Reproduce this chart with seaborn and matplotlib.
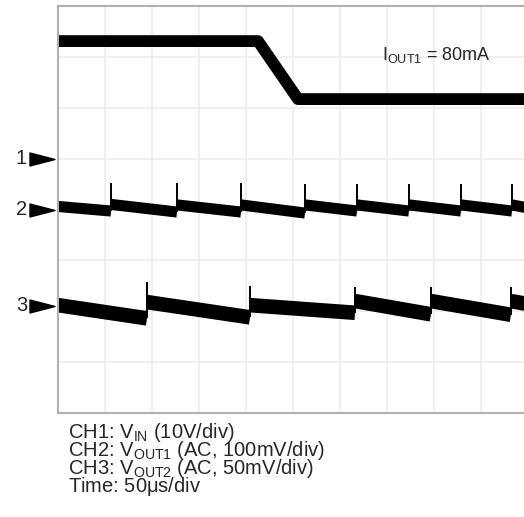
import numpy as np
import pandas as pd
import matplotlib
matplotlib.use("Agg")
import matplotlib.pyplot as plt
from matplotlib.path import Path
import seaborn as sns

# time axis: 50us/div, 10 div; vertical: 8 div (screen divisions)
t_max = 500
n_ydiv = 8

# CH1: V_IN step down
ch1_t = [0, 212.8, 255.3, 500]
ch1_v = [7.31, 7.31, 6.17, 6.17]

# CH2: V_OUT1 ripple (sawtooth), jump times in us
ch2_jump_t = [56.4, 126.6, 194.7, 262.8, 318.1, 373.4, 428.7, 483.0]
ch2_seg_start = [4.06, 4.10, 4.09, 4.09, 4.09, 4.09, 4.09, 4.09, 4.09]
ch2_seg_end = [3.97, 3.95, 3.95, 3.93, 3.97, 3.97, 3.97, 3.97, 4.03]
ch2_spike = [4.52, 4.52, 4.52, 4.50, 4.50, 4.50, 4.50, 4.50]

# CH3: V_OUT2 ripple
ch3_jump_t = [94.7, 204.3, 316.0, 396.8, 481.9]
ch3_seg_start = [2.12, 2.18, 2.12, 2.20, 2.20, 2.20]
ch3_seg_end = [1.86, 1.88, 1.97, 1.94, 1.93, 2.14]
ch3_spike = [2.58, 2.50, 2.48, 2.47, 2.47]

# channel ground markers
marker_labels = ["1", "2", "3"]
marker_levels = [5.0, 4.0, 2.11]

legend_lines = [
    r"CH1: $\mathregular{V_{IN}}$ (10V/div)",
    r"CH2: $\mathregular{V_{OUT1}}$ (AC, 100mV/div)",
    r"CH3: $\mathregular{V_{OUT2}}$ (AC, 50mV/div)",
    r"Time: 50$\mathregular{\mu}$s/div",
]
load_note = r"$\mathregular{I_{OUT1}}$ = 80mA"

sns.set_style("white")
plt.rcParams["font.family"] = ["Liberation Sans", "DejaVu Sans"]
plt.rcParams["mathtext.fontset"] = "custom"
plt.rcParams["mathtext.rm"] = "Liberation Sans"


def segments(jump_t, starts, ends, name):
    edges = [0] + list(jump_t) + [t_max]
    rows = []
    for i in range(len(starts)):
        rows.append((edges[i], starts[i], f"{name}{i}"))
        rows.append((edges[i + 1], ends[i], f"{name}{i}"))
    return pd.DataFrame(rows, columns=["t", "v", "seg"])


W, H = 524, 517
fig = plt.figure(figsize=(W / 100, H / 100), dpi=100)
ax = fig.add_axes([58 / W, 1 - 413 / H, 470 / W, 407 / H])

ax.set_xlim(0, t_max)
ax.set_ylim(0, n_ydiv)
ax.set_xticks(np.arange(0, t_max + 1, 50))
ax.set_yticks(np.arange(0, n_ydiv + 1, 1))
ax.grid(True, color="#ececec", lw=1.2)
ax.tick_params(length=0, labelbottom=False, labelleft=False)
for s in ["left", "top", "bottom"]:
    ax.spines[s].set_color("#b0b0b0")
    ax.spines[s].set_linewidth(1.5)
ax.spines["right"].set_visible(False)

# CH1
sns.lineplot(x=ch1_t, y=ch1_v, ax=ax, color="black", lw=8.5,
             solid_capstyle="butt", sort=False)

# CH2 and CH3: thick noisy bands drawn as thick segments, thin edges at jumps
for jt, st, en, sp, lw, nm in [
    (ch2_jump_t, ch2_seg_start, ch2_seg_end, ch2_spike, 8, "a"),
    (ch3_jump_t, ch3_seg_start, ch3_seg_end, ch3_spike, 10.5, "b"),
]:
    df = segments(jt, st, en, nm)
    sns.lineplot(data=df, x="t", y="v", units="seg", estimator=None,
                 ax=ax, color="black", lw=lw, solid_capstyle="butt",
                 sort=False, legend=False)
    ax.vlines(jt, en[:-1], sp, color="black", lw=1.4)

ax.set_xlabel("")
ax.set_ylabel("")

# channel markers
tri = Path([(-1, -0.52), (1, 0), (-1, 0.52), (-1, -0.52)],
           [Path.MOVETO, Path.LINETO, Path.LINETO, Path.CLOSEPOLY])
tr = ax.get_yaxis_transform()
for lab, lev in zip(marker_labels, marker_levels):
    ax.plot([-0.033], [lev], marker=tri, ms=18, color="black",
            transform=tr, clip_on=False)
    ax.text(-0.066, lev, lab, transform=tr, ha="right", va="center",
            fontsize=14.5)

ax.text(382 / W, 1 - 60 / H, load_note, transform=fig.transFigure,
        fontsize=13, va="baseline")

# settings block below the screen, one text object (baseline = last line)
fig.text(68 / W, 1 - 492 / H, "\n".join(legend_lines), fontsize=14.5,
         va="baseline", linespacing=0.70)

fig.savefig("out.png", dpi=100)
plt.close(fig)
